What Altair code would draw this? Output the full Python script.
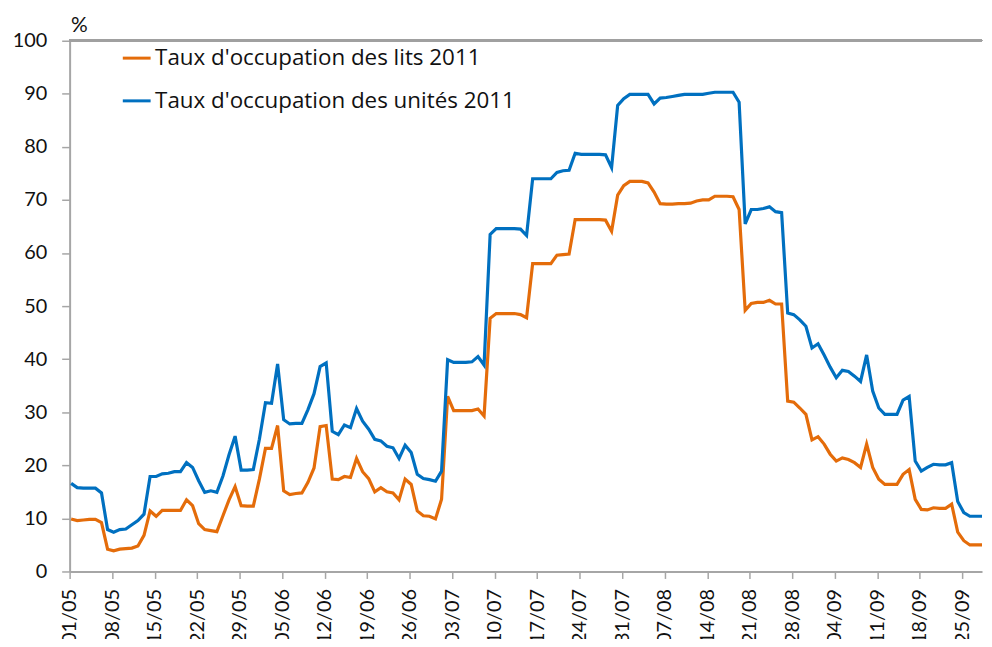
import altair as alt
import pandas as pd

# ---- data ----
start_date = "2011-05-01 06:00"

lits = [9.9, 9.6, 9.7, 9.8, 9.8, 9.2, 4.2, 3.9, 4.2, 4.3,
        4.4, 4.8, 6.8, 11.4, 10.4, 11.5, 11.5, 11.5, 11.5, 13.5,
        12.4, 9.0, 7.9, 7.7, 7.5, 10.5, 13.5, 16.0, 12.4, 12.3,
        12.3, 17.4, 23.2, 23.2, 27.5, 15.2, 14.5, 14.7, 14.8, 16.8,
        19.5, 27.3, 27.5, 17.4, 17.3, 17.9, 17.7, 21.3, 18.8, 17.5,
        15.0, 15.8, 15.0, 14.8, 13.5, 17.4, 16.4, 11.4, 10.5, 10.4,
        9.9, 13.6, 33.0, 30.3, 30.3, 30.3, 30.3, 30.6, 29.3, 47.7,
        48.6, 48.6, 48.6, 48.6, 48.4, 47.8, 58.0, 58.0, 58.0, 58.0,
        59.6, 59.7, 59.8, 66.3, 66.3, 66.3, 66.3, 66.3, 66.2, 64.1,
        70.9, 72.7, 73.5, 73.5, 73.5, 73.2, 71.5, 69.3, 69.2, 69.2,
        69.3, 69.3, 69.4, 69.8, 70.0, 70.0, 70.7, 70.7, 70.7, 70.6,
        68.2, 49.2, 50.5, 50.7, 50.7, 51.1, 50.4, 50.4, 32.1, 31.9,
        30.8, 29.6, 24.8, 25.4, 24.0, 22.1, 20.8, 21.4, 21.1, 20.5,
        19.6, 24.0, 19.6, 17.4, 16.4, 16.4, 16.4, 18.3, 19.2, 13.6,
        11.7, 11.6, 12.0, 11.9, 11.9, 12.7, 7.4, 5.8, 5.0, 5.0,
        5.0]

unites = [16.6, 15.8, 15.7, 15.7, 15.7, 14.8, 7.9, 7.4, 7.9, 8.0,
          8.8, 9.6, 10.8, 17.9, 17.9, 18.4, 18.5, 18.8, 18.8, 20.5,
          19.6, 17.1, 14.9, 15.2, 14.9, 18.0, 22.0, 25.5, 19.1, 19.1,
          19.2, 24.9, 31.8, 31.7, 39.1, 28.6, 27.8, 27.9, 27.9, 30.5,
          33.5, 38.6, 39.3, 26.4, 25.8, 27.6, 27.1, 30.7, 28.3, 26.8,
          24.9, 24.6, 23.6, 23.3, 21.3, 23.8, 22.4, 18.3, 17.5, 17.3,
          17.0, 18.9, 39.9, 39.4, 39.4, 39.4, 39.5, 40.5, 38.9, 63.5,
          64.6, 64.6, 64.6, 64.6, 64.5, 63.3, 74.0, 74.0, 74.0, 74.0,
          75.2, 75.5, 75.6, 78.8, 78.6, 78.6, 78.6, 78.6, 78.5, 76.1,
          87.8, 89.1, 89.9, 89.9, 89.9, 89.9, 88.1, 89.2, 89.3, 89.5,
          89.7, 89.9, 89.9, 89.9, 89.9, 90.1, 90.3, 90.3, 90.3, 90.3,
          88.4, 65.5, 68.2, 68.2, 68.4, 68.7, 67.8, 67.6, 48.7, 48.4,
          47.4, 46.2, 42.1, 42.9, 40.8, 38.5, 36.5, 37.9, 37.7, 36.8,
          35.8, 40.8, 34.0, 30.8, 29.6, 29.6, 29.6, 32.3, 33.0, 20.8,
          18.9, 19.6, 20.2, 20.1, 20.1, 20.5, 13.2, 11.1, 10.4, 10.4,
          10.4]

series_names = ["Taux d'occupation des lits 2011",
                "Taux d'occupation des unités 2011"]
series_colors = ["#E46C0A", "#0070C0"]

tick_dates = ["2011-05-01", "2011-05-08", "2011-05-15", "2011-05-22",
              "2011-05-29", "2011-06-05", "2011-06-12", "2011-06-19",
              "2011-06-26", "2011-07-03", "2011-07-10", "2011-07-17",
              "2011-07-24", "2011-07-31", "2011-08-07", "2011-08-14",
              "2011-08-21", "2011-08-28", "2011-09-04", "2011-09-11",
              "2011-09-18", "2011-09-25"]
x_domain = ["2011-05-01 00:00", "2011-09-28 06:00"]
y_ticks = [0, 10, 20, 30, 40, 50, 60, 70, 80, 90, 100]

# ---- build table ----
dates = pd.date_range(start_date, periods=len(lits), freq="D")
df = pd.concat([
    pd.DataFrame({"date": dates, "value": lits, "serie": series_names[0]}),
    pd.DataFrame({"date": dates, "value": unites, "serie": series_names[1]}),
], ignore_index=True)


def dt(s):
    t = pd.Timestamp(s)
    return alt.DateTime(year=t.year, month=t.month, date=t.day,
                        hours=t.hour, minutes=t.minute)


FONT = "Lato"
LEGEND_FONT = "Open Sans"

x_enc = alt.X(
    "date:T",
    scale=alt.Scale(domain=[dt(d) for d in x_domain]),
    axis=alt.Axis(
        values=[dt(d) for d in tick_dates],
        format="%d/%m",
        labelAngle=270,
        labelFontSize=20,
        labelFont=FONT,
        labelColor="#111111",
        labelPadding=10,
        tickSize=7,
        tickColor="#a6a6a6",
        tickWidth=1.5,
        domainColor="#a6a6a6",
        domainWidth=2,
        grid=False,
        title=None,
        labelOverlap=False,
        labelFlush=False,
    ),
)

y_enc = alt.Y(
    "value:Q",
    scale=alt.Scale(domain=[0, 100], nice=False),
    axis=alt.Axis(
        values=y_ticks,
        labelFontSize=20,
        labelFont=FONT,
        labelColor="#111111",
        labelPadding=15,
        tickSize=8,
        tickColor="#a6a6a6",
        tickWidth=1.5,
        domainColor="#a6a6a6",
        domainWidth=2,
        gridColor="#dcdcdc",
        gridWidth=1.5,
        title="%",
        titleAngle=0,
        titleAlign="left",
        titleBaseline="alphabetic",
        titleX=1,
        titleY=-9,
        titleFont=FONT,
        titleFontSize=21,
        titleFontWeight="normal",
        titleColor="#111111",
    ),
)

lines = alt.Chart(df).mark_line(strokeWidth=3.2, clip=True).encode(
    x=x_enc,
    y=y_enc,
    color=alt.Color(
        "serie:N",
        scale=alt.Scale(domain=series_names, range=series_colors),
        legend=alt.Legend(
            orient="none",
            legendX=52,
            legendY=2,
            title=None,
            padding=0,
            symbolType="stroke",
            symbolSize=784,
            symbolStrokeWidth=3,
            labelFont=LEGEND_FONT,
            labelFontSize=22.5,
            labelColor="#111111",
            labelOffset=3,
            rowPadding=16,
            labelLimit=600,
        ),
    ),
    order="date:T",
)

top_line = alt.Chart(df).mark_rule(color="#a0a0a0", strokeWidth=2).encode(
    y=alt.datum(max(y_ticks))
)

chart = alt.layer(top_line, lines).properties(
    width=918,
    height=534,
    autosize=alt.AutoSizeParams(type="none"),
    padding={"left": 62, "top": 31, "right": 2, "bottom": 66},
    background="white",
).configure_view(stroke=None)

chart.save("out.html", embed_options={"renderer": "svg", "actions": False})
